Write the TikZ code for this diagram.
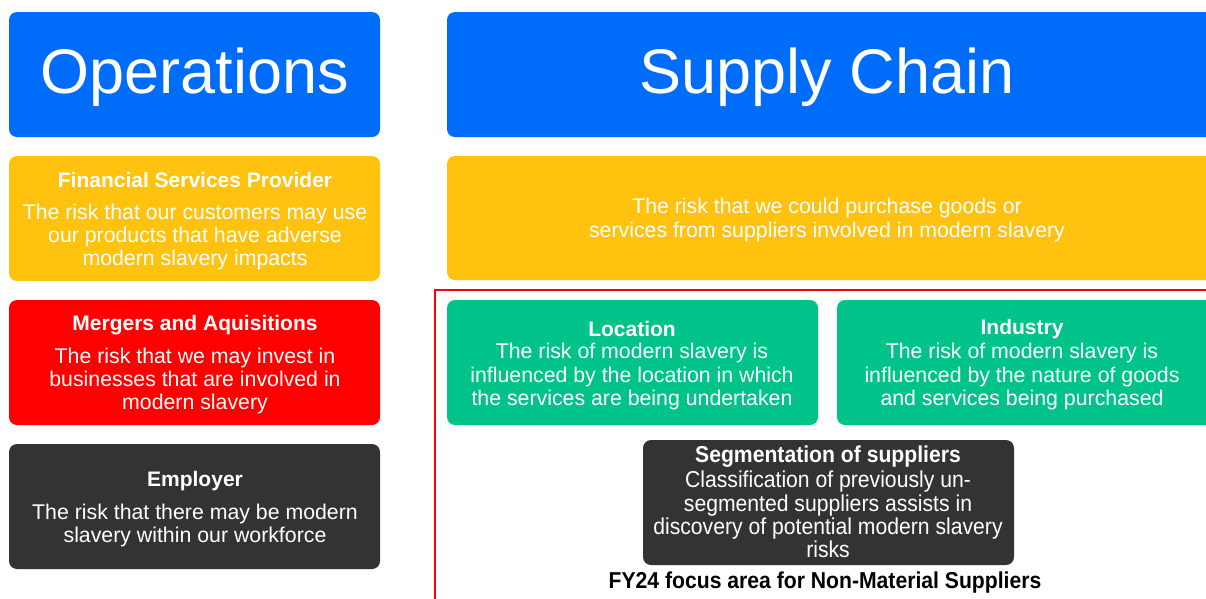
\documentclass[tikz,border=0pt]{standalone}
\usepackage{fontspec}
\setmainfont{Liberation Sans}
\newfontfamily\narrowfont[FakeStretch=0.92]{Liberation Sans}
\definecolor{opblue}{RGB}{0,108,250}
\definecolor{opyellow}{RGB}{255,194,14}
\definecolor{opred}{RGB}{255,0,0}
\definecolor{opgreen}{RGB}{0,195,137}
\definecolor{opdark}{RGB}{51,51,51}
\tikzset{
  box/.style={rounded corners=8pt, draw=none},
  head/.style={text=white, font=\fontsize{63}{63}\selectfont},
  ttl/.style={text=white, font=\bfseries\fontsize{21}{23}\selectfont, inner sep=0pt},
  body/.style={text=white, font=\fontsize{21.3}{23.2}\selectfont, align=center, inner sep=0pt},
  nbody/.style={text=white, font=\narrowfont\fontsize{23}{23.3}\selectfont, align=center, inner sep=0pt},
  nttl/.style={text=white, font=\narrowfont\bfseries\fontsize{23}{23}\selectfont, inner sep=0pt},
}
\begin{document}
\begin{tikzpicture}[x=1pt,y=-1pt]
\useasboundingbox (0,0) rectangle (1206,598);
% left column
\fill[box,opblue] (9,12) rectangle (380,137);
\node[head] (ops) at (195,77) {Operations};
\fill[box,opyellow] (9,156) rectangle (380,281);
\node[ttl] (fspt) at (195,179.5) {Financial Services Provider};
\node[body] (fspb) at (195,237) {The risk that our customers may use\\our products that have adverse\\modern slavery impacts};
\fill[box,opred] (9,300) rectangle (380,425);
\node[ttl] (mat) at (195,325.5) {Mergers and Aquisitions};
\node[body] (mab) at (195,381) {The risk that we may invest in\\businesses that are involved in\\modern slavery};
\fill[box,opdark] (9,444) rectangle (380,569);
\node[ttl] (emt) at (195,481.5) {Employer};
\node[body] (emb) at (195,525.5) {The risk that there may be modern\\slavery within our workforce};
% right column
\fill[box,opblue] (447,12) rectangle (1216,137);
\node[head] (sc) at (827,77) {Supply Chain};
\fill[box,opyellow] (447,156) rectangle (1216,280);
\node[body] (scb) at (827,220) {The risk that we could purchase goods or\\services from suppliers involved in modern slavery};
\draw[opred, line width=1.8pt] (435,600) |- (1210,290);
\fill[box,opgreen] (447,300) rectangle (818,425);
\node[ttl] (lot) at (632,328.5) {Location};
\node[body] (lob) at (632,376.5) {The risk of modern slavery is\\influenced by the location in which\\the services are being undertaken};
\fill[box,opgreen] (837,300) rectangle (1216,425);
\node[ttl] (int) at (1022,329.5) {Industry};
\node[body] (inb) at (1022,376.5) {The risk of modern slavery is\\influenced by the nature of goods\\and services being purchased};
\fill[box,opdark] (643,440) rectangle (1014,565);
\node[nttl] (sgt) at (828,456.5) {Segmentation of suppliers};
\node[nbody] (sgb) at (828,514.5) {Classification of previously un-\\segmented suppliers assists in\\discovery of potential modern slavery\\risks};
\node[font=\narrowfont\bfseries\fontsize{23}{23}\selectfont, inner sep=0pt] (fy) at (825,583) {FY24 focus area for Non-Material Suppliers};
\end{tikzpicture}
\end{document}
